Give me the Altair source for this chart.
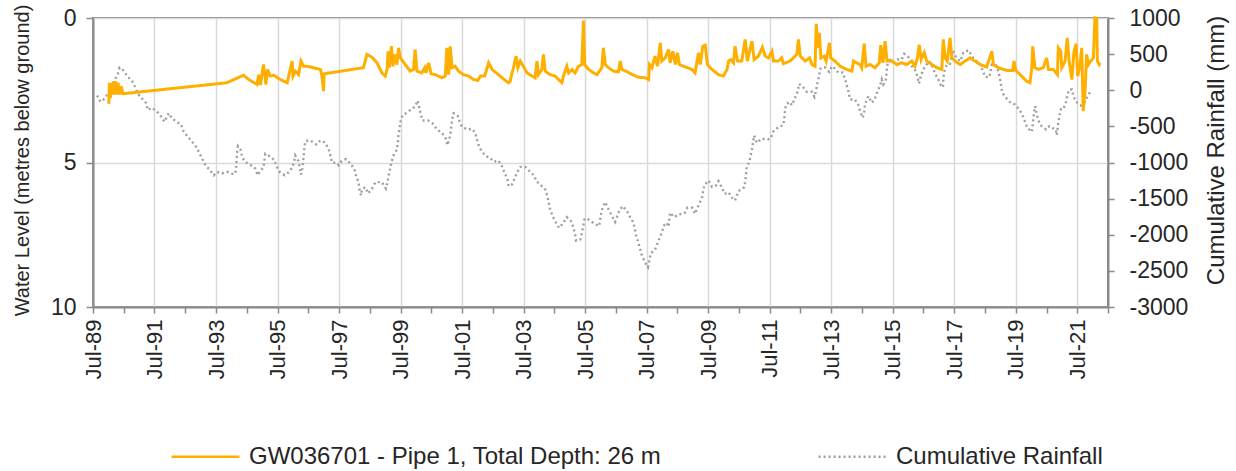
import altair as alt
import pandas as pd

WATER_LABEL = "GW036701 - Pipe 1, Total Depth: 26 m"
RAIN_LABEL = "Cumulative Rainfall"

# Groundwater level (metres below ground), dates as decimal years
level_year = [
    1990.01, 1990.03, 1990.06, 1990.09, 1990.13, 1990.17, 1990.22, 1990.27, 1990.31, 1990.36,
    1990.41, 1990.47, 1993.85, 1994.39, 1994.56, 1994.83, 1994.88, 1994.94, 1995.04, 1995.12,
    1995.17, 1995.26, 1995.37, 1995.59, 1995.81, 1995.86, 1995.97, 1996.00, 1996.08, 1996.18,
    1996.26, 1996.34, 1996.46, 1996.89, 1996.94, 1996.99, 1997.01, 1998.29, 1998.40, 1998.57,
    1998.73, 1998.89, 1999.00, 1999.06, 1999.09, 1999.13, 1999.20, 1999.25, 1999.30, 1999.38,
    1999.43, 1999.49, 1999.65, 1999.81, 1999.92, 1999.97, 2000.03, 2000.19, 2000.28, 2000.32,
    2000.41, 2000.49, 2000.62, 2000.84, 2000.95, 2001.00, 2001.06, 2001.11, 2001.17, 2001.27,
    2001.38, 2001.54, 2001.71, 2001.87, 2002.01, 2002.09, 2002.23, 2002.36, 2002.47, 2002.68,
    2002.90, 2003.01, 2003.06, 2003.12, 2003.17, 2003.25, 2003.31, 2003.39, 2003.49, 2003.61,
    2003.77, 2003.87, 2003.93, 2003.98, 2004.09, 2004.14, 2004.20, 2004.36, 2004.52, 2004.69,
    2004.74, 2004.79, 2004.90, 2004.96, 2005.07, 2005.17, 2005.28, 2005.39, 2005.44, 2005.48,
    2005.61, 2005.77, 2005.88, 2006.04, 2006.09, 2006.15, 2006.26, 2006.42, 2006.58, 2006.64,
    2006.69, 2006.86, 2007.07, 2007.23, 2007.45, 2007.56, 2007.59, 2007.67, 2007.77, 2007.85,
    2007.94, 2007.99, 2008.10, 2008.21, 2008.26, 2008.35, 2008.43, 2008.50, 2008.56, 2008.69,
    2008.82, 2008.97, 2009.07, 2009.18, 2009.24, 2009.32, 2009.40, 2009.47, 2009.62, 2009.83,
    2009.99, 2010.11, 2010.16, 2010.23, 2010.32, 2010.37, 2010.45, 2010.59, 2010.70, 2010.77,
    2010.92, 2010.99, 2011.13, 2011.26, 2011.35, 2011.46, 2011.57, 2011.62, 2011.78, 2011.89,
    2011.94, 2012.16, 2012.38, 2012.43, 2012.49, 2012.65, 2012.79, 2012.87, 2012.97, 2013.01,
    2013.06, 2013.11, 2013.16, 2013.27, 2013.33, 2013.44, 2013.48, 2013.62, 2013.79, 2014.00,
    2014.17, 2014.22, 2014.31, 2014.44, 2014.49, 2014.57, 2014.63, 2014.76, 2014.92, 2015.06,
    2015.11, 2015.18, 2015.25, 2015.31, 2015.47, 2015.63, 2015.79, 2015.95, 2016.12, 2016.22,
    2016.30, 2016.36, 2016.42, 2016.52, 2016.60, 2016.77, 2016.93, 2017.09, 2017.14, 2017.20,
    2017.27, 2017.36, 2017.42, 2017.52, 2017.69, 2017.85, 2018.01, 2018.17, 2018.34, 2018.55,
    2018.72, 2018.77, 2018.93, 2019.09, 2019.26, 2019.40, 2019.44, 2019.50, 2019.69, 2019.85,
    2019.96, 2020.02, 2020.05, 2020.12, 2020.23, 2020.39, 2020.50, 2020.56, 2020.72, 2020.85,
    2020.88, 2020.96, 2020.99, 2021.10, 2021.17, 2021.23, 2021.32, 2021.39, 2021.46, 2021.51,
    2021.59, 2021.64, 2021.69, 2021.75, 2021.80, 2021.86, 2021.93, 2022.02, 2022.07, 2022.13,
    2022.15, 2022.21, 2022.24,
]
level_m = [
    2.97, 2.24, 2.76, 2.47, 2.24, 2.65, 2.19, 2.65, 2.24, 2.65,
    2.36, 2.62, 2.24, 1.98, 2.13, 2.30, 1.96, 2.32, 1.61, 2.30,
    1.78, 2.01, 1.98, 2.13, 2.24, 2.01, 1.49, 2.01, 1.84, 1.96,
    1.49, 1.67, 1.67, 1.78, 2.01, 2.53, 1.93, 1.72, 1.26, 1.36,
    1.55, 1.90, 2.01, 1.78, 1.15, 1.72, 0.98, 1.67, 1.26, 1.61,
    1.03, 1.38, 1.61, 1.84, 1.78, 1.09, 1.84, 1.90, 1.72, 1.90,
    1.55, 1.93, 1.96, 2.07, 2.01, 1.03, 1.96, 0.98, 1.72, 1.67,
    1.84, 1.96, 2.01, 2.13, 2.16, 2.01, 2.01, 1.55, 1.78, 1.96,
    2.16, 2.24, 2.19, 1.90, 1.72, 1.32, 1.72, 1.49, 1.67, 1.90,
    2.01, 2.07, 1.49, 1.96, 1.78, 1.26, 1.84, 1.96, 2.01, 2.19,
    2.24, 2.01, 1.67, 1.90, 1.78, 1.90, 1.67, 1.61, 0.09, 1.61,
    1.78, 1.90, 1.96, 1.72, 1.03, 1.61, 1.72, 1.84, 1.86, 1.49,
    1.78, 1.86, 1.98, 2.05, 2.07, 2.13, 1.61, 1.72, 1.32, 1.67,
    0.86, 1.49, 1.38, 1.09, 1.55, 1.15, 1.61, 1.20, 1.61, 1.67,
    1.72, 1.78, 1.90, 1.20, 1.61, 0.98, 0.94, 1.61, 1.78, 1.96,
    2.01, 1.78, 1.49, 1.44, 1.55, 0.98, 1.49, 1.49, 0.74, 1.49,
    0.80, 1.44, 1.32, 1.01, 1.32, 1.38, 1.15, 1.49, 1.49, 1.38,
    1.58, 1.49, 1.26, 0.74, 1.32, 1.49, 1.38, 1.61, 1.67, 0.20,
    1.03, 0.51, 1.38, 1.32, 1.49, 0.86, 1.38, 1.49, 1.67, 1.78,
    1.84, 1.49, 1.55, 1.61, 1.72, 0.89, 1.67, 1.61, 1.72, 1.55,
    0.94, 1.55, 0.80, 1.49, 1.49, 1.61, 1.55, 1.61, 1.49, 1.67,
    1.38, 0.92, 1.44, 1.20, 1.49, 1.61, 1.72, 1.78, 0.74, 1.38,
    1.49, 0.69, 1.38, 1.49, 1.61, 1.49, 1.38, 1.49, 1.61, 1.70,
    1.15, 1.61, 1.72, 1.78, 1.82, 1.82, 1.49, 1.82, 2.01, 2.19,
    2.24, 1.72, 0.98, 1.72, 1.78, 1.72, 1.38, 1.78, 1.78, 1.96,
    1.03, 1.15, 1.72, 1.49, 0.69, 1.49, 2.13, 1.15, 0.89, 2.01,
    1.61, 1.03, 3.22, 2.53, 1.26, 1.61, 1.49, 1.38, 0.00, 0.02,
    1.49, 1.61, 1.55,
]

# Cumulative rainfall departure (mm), dates as decimal years
rain_year = [
    1989.63, 1989.74, 1989.84, 1989.97, 1990.06, 1990.15, 1990.30, 1990.36, 1990.49, 1990.62,
    1990.77, 1990.87, 1990.95, 1991.09, 1991.23, 1991.27, 1991.42, 1991.58, 1991.71, 1991.82,
    1991.96, 1992.05, 1992.21, 1992.36, 1992.44, 1992.57, 1992.72, 1992.86, 1993.04, 1993.15,
    1993.29, 1993.42, 1993.53, 1993.69, 1993.85, 1994.02, 1994.12, 1994.15, 1994.18, 1994.21,
    1994.29, 1994.34, 1994.43, 1994.59, 1994.77, 1994.85, 1994.94, 1995.04, 1995.10, 1995.24,
    1995.39, 1995.46, 1995.56, 1995.73, 1995.86, 1995.97, 1996.04, 1996.07, 1996.18, 1996.26,
    1996.31, 1996.34, 1996.37, 1996.40, 1996.56, 1996.76, 1996.89, 1997.05, 1997.16, 1997.23,
    1997.27, 1997.43, 1997.48, 1997.59, 1997.73, 1997.86, 1997.99, 1998.05, 1998.13, 1998.15,
    1998.21, 1998.24, 1998.35, 1998.44, 1998.57, 1998.68, 1998.89, 1999.02, 1999.07, 1999.11,
    1999.20, 1999.27, 1999.38, 1999.41, 1999.43, 1999.49, 1999.56, 1999.72, 1999.87, 1999.97,
    2000.05, 2000.10, 2000.15, 2000.21, 2000.39, 2000.54, 2000.68, 2000.84, 2000.97, 2001.02,
    2001.08, 2001.12, 2001.17, 2001.22, 2001.35, 2001.41, 2001.49, 2001.67, 2001.82, 2001.92,
    2001.98, 2002.05, 2002.14, 2002.28, 2002.41, 2002.52, 2002.68, 2002.79, 2002.88, 2002.97,
    2003.01, 2003.12, 2003.19, 2003.28, 2003.39, 2003.55, 2003.71, 2003.84, 2003.91, 2004.06,
    2004.20, 2004.27, 2004.36, 2004.44, 2004.55, 2004.65, 2004.79, 2004.90, 2005.04, 2005.12,
    2005.17, 2005.20, 2005.34, 2005.39, 2005.44, 2005.48, 2005.61, 2005.80, 2005.95, 2006.02,
    2006.08, 2006.15, 2006.26, 2006.37, 2006.47, 2006.61, 2006.72, 2006.86, 2006.96, 2007.07,
    2007.16, 2007.23, 2007.34, 2007.45, 2007.54, 2007.59, 2007.63, 2007.77, 2007.91, 2007.99,
    2008.07, 2008.15, 2008.21, 2008.26, 2008.39, 2008.53, 2008.73, 2008.82, 2008.98, 2009.07,
    2009.18, 2009.29, 2009.37, 2009.51, 2009.62, 2009.75, 2009.83, 2009.94, 2010.03, 2010.16,
    2010.29, 2010.37, 2010.48, 2010.67, 2010.71, 2010.75, 2010.84, 2010.92, 2010.99, 2011.08,
    2011.24, 2011.40, 2011.53, 2011.62, 2011.78, 2011.94, 2011.98, 2012.00, 2012.03, 2012.14,
    2012.22, 2012.32, 2012.41, 2012.45, 2012.56, 2012.70, 2012.87, 2012.95, 2013.01, 2013.05,
    2013.10, 2013.14, 2013.28, 2013.43, 2013.52, 2013.62, 2013.73, 2013.87, 2013.95, 2014.06,
    2014.11, 2014.27, 2014.38, 2014.44, 2014.52, 2014.57, 2014.60, 2014.71, 2014.82, 2014.92,
    2015.00, 2015.09, 2015.14, 2015.19, 2015.27, 2015.31, 2015.36, 2015.50, 2015.65, 2015.79,
    2015.87, 2016.01, 2016.12, 2016.25, 2016.31, 2016.35, 2016.41, 2016.49, 2016.58, 2016.68,
    2016.79, 2016.87, 2016.98, 2017.06, 2017.13, 2017.14, 2017.19, 2017.26, 2017.36, 2017.45,
    2017.56, 2017.69, 2017.79, 2017.96, 2018.07, 2018.17, 2018.34, 2018.41, 2018.50, 2018.64,
    2018.72, 2018.85, 2018.93, 2018.99, 2019.06, 2019.20, 2019.33, 2019.47, 2019.61, 2019.72,
    2019.80, 2019.87, 2020.02, 2020.05, 2020.07, 2020.10, 2020.13, 2020.18, 2020.23, 2020.34,
    2020.48, 2020.59, 2020.72, 2020.80, 2020.83, 2020.88, 2020.91, 2020.96, 2021.04, 2021.12,
    2021.17, 2021.23, 2021.32, 2021.37, 2021.46, 2021.61, 2021.75, 2021.82, 2021.93,
]
rain_mm = [
    -73, -160, -128, -59, 24, 103, 218, 311, 273, 190,
    125, 42, -49, -114, -179, -271, -243, -298, -363, -437,
    -318, -381, -437, -474, -567, -640, -713, -788, -944, -1037,
    -1101, -1176, -1129, -1152, -1129, -1157, -1157, -1065, -866, -775,
    -820, -913, -990, -1028, -1083, -1176, -1120, -1065, -880, -913,
    -963, -1051, -1129, -1176, -1138, -1073, -982, -903, -982, -1166,
    -1073, -935, -797, -705, -695, -751, -695, -727, -820, -926,
    -1004, -1004, -1037, -972, -954, -1014, -1087, -1184, -1272, -1360,
    -1457, -1374, -1342, -1429, -1360, -1272, -1272, -1360, -1272, -1180,
    -996, -899, -820, -713, -622, -442, -345, -308, -253, -229,
    -142, -234, -326, -419, -419, -460, -543, -589, -672, -760,
    -681, -589, -405, -318, -349, -428, -506, -543, -533, -589,
    -681, -775, -852, -913, -935, -990, -972, -1051, -1143, -1226,
    -1328, -1304, -1235, -1143, -1060, -1060, -1129, -1180, -1258, -1314,
    -1374, -1466, -1650, -1743, -1834, -1904, -1834, -1757, -1812, -1904,
    -1996, -2079, -2065, -1973, -1868, -1775, -1789, -1849, -1881, -1700,
    -1604, -1549, -1650, -1743, -1821, -1664, -1604, -1674, -1757, -1834,
    -2020, -2111, -2283, -2388, -2449, -2352, -2259, -2204, -2056, -1965,
    -1868, -1834, -1890, -1696, -1757, -1720, -1702, -1627, -1627, -1710,
    -1591, -1498, -1314, -1249, -1336, -1318, -1258, -1342, -1433, -1411,
    -1498, -1526, -1397, -1342, -1249, -1065, -982, -820, -626, -727,
    -668, -686, -668, -567, -511, -483, -359, -266, -197, -160,
    -207, -105, -13, 89, 56, -21, -21, -91, 10, 103,
    195, 297, 319, 255, 333, 301, 241, 246, 149, -21,
    -128, -128, -207, -298, -381, -290, -188, -82, -174, -114,
    -21, 70, 149, 80, 125, 301, 449, 380, 426, 426,
    504, 457, 333, 264, 172, 93, 195, 287, 347, 402,
    324, 232, 149, 70, 42, 172, 287, 356, 366, 550,
    457, 402, 518, 554, 471, 426, 356, 287, 186, 181,
    356, 347, 264, 149, -35, -114, -174, -197, -266, -345,
    -437, -520, -575, -474, -381, -290, -221, -326, -419, -497,
    -543, -497, -529, -543, -622, -451, -359, -266, -266, -174,
    -82, 10, 10, -82, -160, -211, -160, -96, -13,
]

ORANGE = "#FFAF00"
GREY = "#9E9E9E"
FRAME = "#8A8A8A"
GRID = "#D9D9D9"
TEXT = "#262626"
FONT = "Liberation Sans"


def to_stamp(decimal_year):
    year = int(decimal_year)
    start = pd.Timestamp(year=year, month=1, day=1)
    end = pd.Timestamp(year=year + 1, month=1, day=1)
    moment = start + (end - start) * (decimal_year - year)
    return moment.strftime("%Y-%m-%dT%H:%M:%S")


level_df = pd.DataFrame({
    "date": [to_stamp(y) for y in level_year],
    "value": level_m,
    "series": WATER_LABEL,
})
rain_df = pd.DataFrame({
    "date": [to_stamp(y) for y in rain_year],
    "value": rain_mm,
    "series": RAIN_LABEL,
})

series_order = [WATER_LABEL, RAIN_LABEL]
color_scale = alt.Scale(domain=series_order, range=[ORANGE, GREY])
dash_scale = alt.Scale(domain=series_order, range=[[1, 0], [2, 3]])

year_ticks = [alt.DateTime(year=y, month=7, date=1) for y in range(1989, 2023)]

x_enc = alt.X(
    "date:T",
    scale=alt.Scale(domain=[alt.DateTime(year=1989, month=7, date=1),
                            alt.DateTime(year=2022, month=7, date=1)]),
    axis=alt.Axis(
        title=None,
        values=year_ticks,
        labelExpr="year(datum.value) % 2 == 1 ? timeFormat(datum.value, '%b-%y') : ''",
        labelAngle=270,
        labelFontSize=22,
        labelPadding=6,
        labelColor=TEXT,
        labelOverlap=False,
        tickSize=6,
        tickColor=FRAME,
        tickWidth=1.5,
        domainColor=FRAME,
        domainWidth=2,
        grid=True,
        gridColor={"condition": {"test": "year(datum.value) % 2 == 1", "value": GRID},
                   "value": "rgba(0,0,0,0)"},
        gridWidth=1.5,
    ),
)

legend = alt.Legend(
    title=None,
    orient="none",
    legendX=77,
    legendY=403,
    direction="horizontal",
    symbolType="stroke",
    symbolSize=4600,
    symbolStrokeWidth=2.5,
    labelFontSize=24,
    labelColor=TEXT,
    labelOffset=8,
    labelLimit=600,
    columnPadding=151,
)

rain = alt.Chart(rain_df).mark_line(strokeWidth=2.4).encode(
    x=x_enc,
    y=alt.Y(
        "value:Q",
        scale=alt.Scale(domain=[-3000, 1000], nice=False, zero=False),
        axis=alt.Axis(
            title="Cumulative Rainfall (mm)",
            orient="right",
            values=list(range(-3000, 1001, 500)),
            labelExpr="'' + datum.value",
            grid=False,
            labelFontSize=23,
            labelColor=TEXT,
            labelAlign="left",
            labelPadding=15,
            tickSize=6,
            tickColor=FRAME,
            tickWidth=1.5,
            domainColor=FRAME,
            domainWidth=2,
            titleFontSize=24,
            titleFontWeight="normal",
            titleColor=TEXT,
            titleAngle=270,
            titleX=108,
            titleY=132,
            titleAlign="center",
            titleBaseline="middle",
        ),
    ),
    color=alt.Color("series:N", scale=color_scale, legend=legend),
    strokeDash=alt.StrokeDash("series:N", scale=dash_scale, legend=legend),
)

level = alt.Chart(level_df).mark_line(strokeWidth=3).encode(
    x=x_enc,
    y=alt.Y(
        "value:Q",
        scale=alt.Scale(domain=[0, 10], reverse=True, nice=False),
        axis=alt.Axis(
            title="Water Level (metres below ground)",
            orient="left",
            values=[0, 5, 10],
            grid=True,
            gridColor=GRID,
            gridWidth=1.5,
            labelFontSize=23,
            labelColor=TEXT,
            labelPadding=10,
            tickSize=7,
            tickColor=FRAME,
            tickWidth=1.5,
            domainColor=FRAME,
            domainWidth=2,
            titleFontSize=20,
            titleFontWeight="normal",
            titleColor=TEXT,
            titleAngle=270,
            titleX=-71,
            titleY=142,
            titleAlign="center",
            titleBaseline="middle",
        ),
    ),
    color=alt.Color("series:N", scale=color_scale, legend=legend),
    strokeDash=alt.StrokeDash("series:N", scale=dash_scale, legend=legend),
)

chart = (
    alt.layer(rain, level)
    .resolve_scale(y="independent")
    .properties(
        width=1015,
        height=289,
        padding={"left": 93, "top": 18, "right": 128, "bottom": 164},
        autosize=alt.AutoSizeParams(type="none"),
        background="white",
    )
    .configure(font=FONT)
    .configure_view(stroke=FRAME, strokeWidth=2)
)

chart.save("out.html", embed_options={"renderer": "svg", "actions": False})
